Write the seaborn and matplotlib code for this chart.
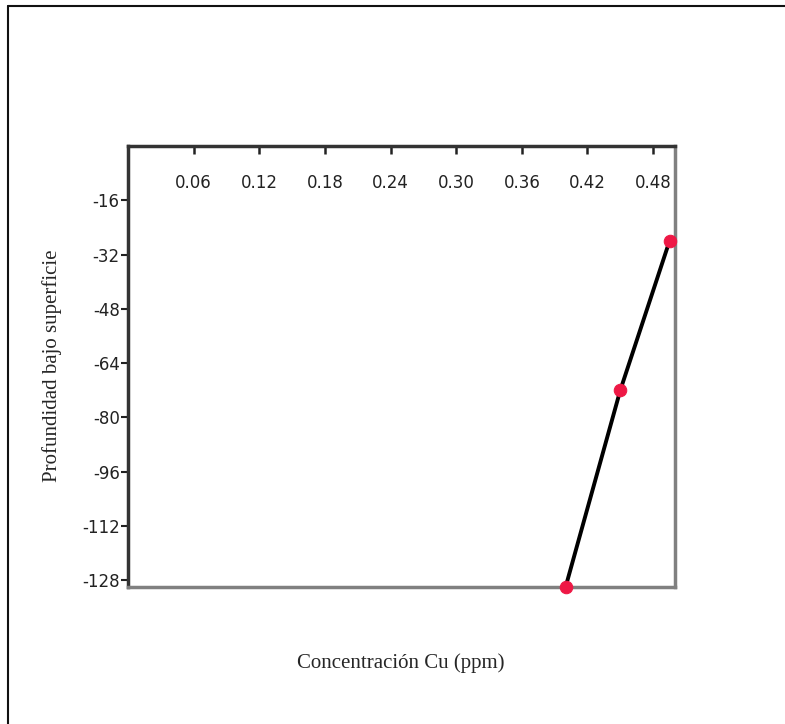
import seaborn as sns
import pandas as pd
import matplotlib.pyplot as plt
from matplotlib.lines import Line2D

# data
conc_cu = [0.40, 0.45, 0.495]
depth = [-130, -72, -28]
x_ticks = [0.06, 0.12, 0.18, 0.24, 0.30, 0.36, 0.42, 0.48]
y_ticks = [-16, -32, -48, -64, -80, -96, -112, -128]

df = pd.DataFrame({"conc": conc_cu, "depth": depth})

sns.set_style("white")
plt.rcParams['font.family'] = ['DejaVu Sans']

fig = plt.figure(figsize=(7.85, 7.24), dpi=100)
ax = fig.add_axes([128 / 785, 1 - 587 / 724, (675 - 128) / 785, (587 - 146) / 724])

sns.lineplot(ax=ax, data=df, x="conc", y="depth", color='black', linewidth=2.8,
             marker='o', markersize=9, markerfacecolor='#ee1845', markeredgecolor='#ee1845',
             clip_on=False, zorder=3)

ax.set_xlim(0, 0.5)
ax.set_ylim(-130, 0)
ax.xaxis.tick_top()
ax.set_xticks(x_ticks)
ax.set_xticklabels(["%.2f" % v for v in x_ticks])
ax.set_yticks(y_ticks)
ax.set_yticklabels([str(v) for v in y_ticks])
ax.tick_params(axis='x', top=True, bottom=False, direction='in', length=6, width=1.8, pad=-33,
               labelsize=12, colors='#222222')
ax.tick_params(axis='y', left=True, direction='out', length=5, width=1.5, pad=1,
               labelsize=12, colors='#222222')

for side in ['left', 'top']:
    ax.spines[side].set_color('#333333')
    ax.spines[side].set_linewidth(2.5)
for side in ['right', 'bottom']:
    ax.spines[side].set_color('#808080')
    ax.spines[side].set_linewidth(2.5)

ax.set_xlabel('')
ax.set_ylabel('')
fig.text(401 / 785, 1 - 663 / 724, 'Concentración Cu (ppm)', ha='center', va='center',
         family='Liberation Serif', fontsize=15)
fig.text(52 / 785, 1 - 366 / 724, 'Profundidad bajo superficie', ha='center', va='center',
         rotation=90, family='Liberation Serif', fontsize=15)

# outer frame (left and top)
fig.add_artist(Line2D([8 / 785, 8 / 785], [0, 1 - 6 / 724], color='#111111', linewidth=1.5))
fig.add_artist(Line2D([8 / 785, 1], [1 - 6 / 724, 1 - 6 / 724], color='#111111', linewidth=1.5))

fig.savefig('out.png', dpi=100)
